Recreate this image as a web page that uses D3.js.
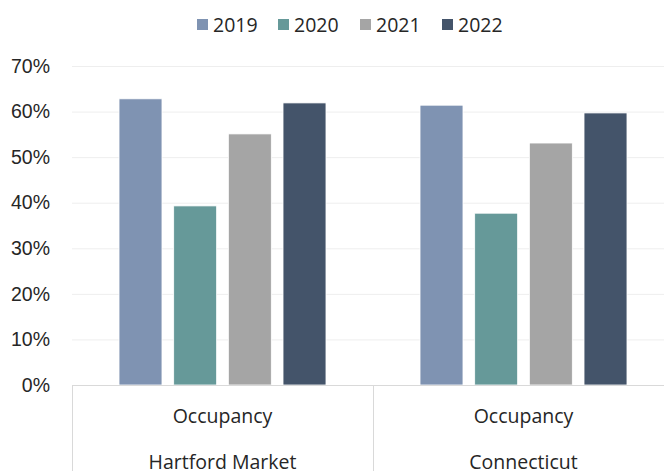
<!DOCTYPE html>
<html>
<head>
<meta charset="utf-8">
<script src="https://cdn.jsdelivr.net/npm/d3@7"></script>
<style>
  body { margin: 0; background: #fff; overflow: hidden; }
  svg { display: block; font-family: "Open Sans", "Noto Sans", sans-serif; }
</style>
</head>
<body>
<div id="chart"></div>
<script>
// data
const years = ["2019", "2020", "2021", "2022"];
const regions = ["Hartford Market", "Connecticut"];
const metric = "Occupancy";
const hartford = [0.628, 0.393, 0.551, 0.619];
const connecticut = [0.614, 0.377, 0.531, 0.597];
const yTicks = [0, 0.1, 0.2, 0.3, 0.4, 0.5, 0.6, 0.7];

const colors = {
    "2019": "#7F93B2",
    "2020": "#669999",
    "2021": "#A5A5A5",
    "2022": "#44546A",
};

const width = 664;
const height = 471;
// plot runs a little past the right edge, like the original
const margins = { top: 66, right: -10, bottom: 86, left: 72 };
const fontSize = "19.5px";

const data = regions.map((r, i) => ({
    region: r,
    values: years.map((y, j) => ({ year: y, value: (i == 0 ? hartford : connecticut)[j] }))
}));

const svg = d3.select("#chart")
    .append("svg")
    .attr("width", width)
    .attr("height", height);

const x0 = d3.scaleBand()
    .domain(regions)
    .range([margins.left, width - margins.right])
    .padding(0);
const x1 = d3.scaleBand()
    .domain(years)
    .range([0, x0.bandwidth()])
    .paddingInner(0.214)
    .paddingOuter(0.86);
const y = d3.scaleLinear()
    .domain([0, 0.7])
    .range([height - margins.bottom, margins.top]);

// gridlines + y labels
const gy = svg.append("g")
    .attr("transform", `translate(${margins.left},0)`)
    .call(d3.axisLeft(y)
        .tickValues(yTicks)
        .tickFormat(d3.format(".0%"))
        .tickSize(-(width - margins.left))
        .tickPadding(22))
    .call(g => g.select(".domain").remove());
gy.selectAll(".tick line").attr("stroke", "#eeeeee").attr("stroke-width", 1);
gy.selectAll(".tick text")
    .attr("fill", "#262626")
    .style("font-family", "inherit")
    .style("font-size", fontSize);

// bars
svg.append("g")
    .selectAll("g")
    .data(data)
    .join("g")
    .attr("transform", d => `translate(${x0(d.region)},0)`)
    .selectAll("rect")
    .data(d => d.values)
    .join("rect")
    .attr("x", d => x1(d.year))
    .attr("y", d => y(d.value))
    .attr("width", x1.bandwidth())
    .attr("height", d => y(0) - y(d.value))
    .attr("fill", d => colors[d.year])
    .attr("stroke", "#ffffff")
    .attr("stroke-width", 0.8);

// category axis (boxed style)
const base = y(0);
const axisG = svg.append("g");
axisG.append("line")
    .attr("x1", margins.left).attr("x2", width)
    .attr("y1", base + 0.5).attr("y2", base + 0.5)
    .attr("stroke", "#d9d9d9");
const edges = regions.map(r => x0(r)).concat([x0.range()[1]]);
axisG.selectAll("line.sep")
    .data(edges)
    .join("line")
    .attr("class", "sep")
    .attr("x1", d => Math.round(d) + 0.5).attr("x2", d => Math.round(d) + 0.5)
    .attr("y1", base).attr("y2", height)
    .attr("stroke", "#d9d9d9");
axisG.selectAll("text.metric")
    .data(regions)
    .join("text")
    .attr("class", "metric")
    .attr("x", d => x0(d) + x0.bandwidth() / 2)
    .attr("y", base + 38)
    .attr("text-anchor", "middle")
    .attr("fill", "#262626")
    .style("font-size", fontSize)
    .text(metric);
axisG.selectAll("text.region")
    .data(regions)
    .join("text")
    .attr("class", "region")
    .attr("x", d => x0(d) + x0.bandwidth() / 2)
    .attr("y", base + 84)
    .attr("text-anchor", "middle")
    .attr("fill", "#262626")
    .style("font-size", fontSize)
    .text(d => d);

// legend
const legendX = [197, 278, 360, 442];
const legend = svg.append("g")
    .selectAll("g")
    .data(years)
    .join("g")
    .attr("transform", (d, i) => `translate(${legendX[i]},19)`);
legend.append("rect")
    .attr("width", 11).attr("height", 11)
    .attr("fill", d => colors[d]);
legend.append("text")
    .attr("x", 16)
    .attr("y", 12.5)
    .attr("fill", "#262626")
    .style("font-size", fontSize)
    .text(d => d);
</script>
</body>
</html>
